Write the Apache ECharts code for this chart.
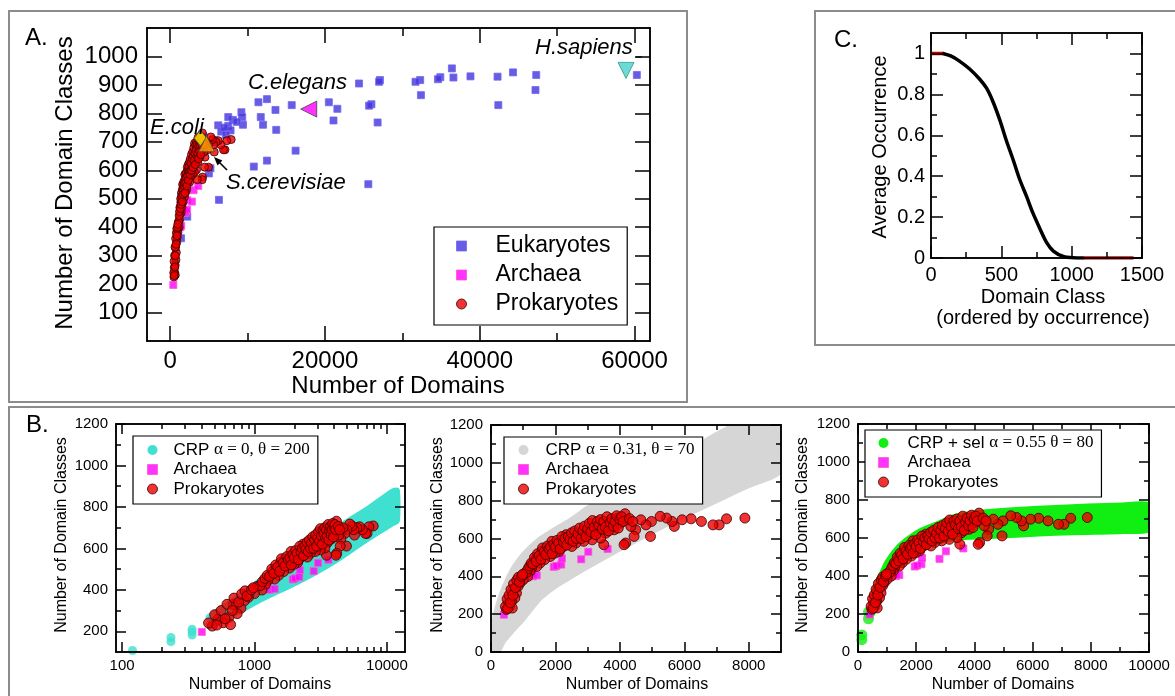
<!DOCTYPE html>
<html><head><meta charset="utf-8">
<script src="https://cdn.jsdelivr.net/npm/echarts@6/dist/echarts.min.js"></script>
<style>html,body{margin:0;padding:0;background:#fff}#c{width:1175px;height:696px}</style>
</head><body><div id="c"></div>
<script>
// ---------------- DATA ----------------
// Panel A: eukaryotes
const eukX = [60300,47300,47200,44300,42300,42400,38800,36400,36600,34900,34600,32300,32400,31700,27100,27000,24400,26000,25700,26800,25600,21600,20500,21100,15700,16200,13600,13700,12500,11400,11700,12000,12500,10800,9200,9300,9400,8100,7500,7500,7800,6200,6300,5000,5200,6600,7200,5700,4300,1400,2200,8600,7000];
const eukY = [935,935,882,944,929,829,930,958,926,927,920,917,864,911,917,911,905,832,827,768,551,816,839,775,829,669,812,742,850,839,787,760,634,613,804,787,760,777,787,756,740,758,496,589,607,736,724,707,719,361,437,770,750];
// Archaea (shared by all panels)
const archX = [400,1300,1420,1950,2030,2180,2200,2800,3020,3620];
const archY = [197,400,405,450,455,462,495,490,530,545];
// Prokaryotes (shared by all panels)
const prokX = [7880,7310,7080,6890,6530,6210,5930,5690,5620,5450,5250,4980,4950,4810,4650,4490,4440,4180,4130,4160,4230,4340,4020,3920,3820,3710,3660,3560,3500,3450,3400,3300,3220,3140,3090,3030,2930,2880,2770,2670,2640,2570,2510,2410,2330,2250,2200,2120,2040,1990,1940,1890,1840,1780,1700,1660,1570,1520,1470,1420,1370,1260,1210,1140,1050,1000,900,840,790,740,690,640,580,660,530,480,
 1100,1150,1200,1250,1300,1350,1400,1450,1500,1550,1600,1650,1700,1750,1800,1850,1900,1950,2000,2050,2100,2150,2200,2250,2300,2350,2400,2450,2500,2550,2600,2650,2700,2750,2800,2850,2900,2950,3000,3050,3100,3150,3200,3250,3300,3350,3400,3450,3500,3550,3600,3650,3700,3750,3800,3850,3900,3950,4000,4050,4100,4300,4400,450,500,520,560,600,620,680,700,760,800,850,880,950,980];
const prokY = [708,704,672,672,690,704,699,664,690,708,717,690,611,672,699,646,611,576,567,731,699,664,681,708,646,699,672,628,567,681,602,655,637,593,664,620,628,585,611,620,576,602,558,585,620,558,593,532,567,523,549,585,505,532,549,488,532,470,505,452,488,444,426,399,417,382,364,347,311,285,329,267,241,232,258,225,
 420,440,455,470,465,500,480,520,510,490,550,530,515,560,545,555,520,570,555,590,575,545,610,580,600,565,610,595,630,585,640,600,625,655,600,640,665,610,650,680,635,695,660,620,690,670,700,650,690,660,715,640,685,705,665,690,720,655,700,715,690,705,690,240,280,230,300,260,330,300,360,340,380,395,370,400,410];
// Highlighted genomes in panel A
const speciesNames = ['E.coli','S.cerevisiae','C.elegans','H.sapiens'];
const speciesX = [3900,4700,17900,58900];
const speciesY = [713,693,815,951];

// Panel C: average occurrence curve
const classRank = [85,140,200,275,345,395,440,490,535,585,630,680,725,775,820,870,940,1010,1080];
const avgOcc = [1,0.988,0.964,0.924,0.875,0.83,0.765,0.673,0.576,0.478,0.385,0.3,0.219,0.142,0.078,0.034,0.008,0.001,0];
const headRankX = [0,85], headOccY = [1,1];
const tailRankX = [1080,1440], tailOccY = [0,0];

// Panel B simulations (band edges)
const crp0X  = [470,650,1000,1300,2250,4000,7000,11000,12000];
const crp0Up = [275,339,425,484,588,692,788,876,880];
const crp0Lo = [225,270,335,372,445,535,640,718,733];
const crp0DotX = [120,234,234,338,338,338,461,461];
const crp0DotY = [107,150,170,182,197,210,230,265];
const crp1X  = [0,200,400,700,1000,1500,2000,2500,3000,4000,5000,6000,7000,8000,9000];
const crp1Up = [80,240,340,445,515,595,650,700,760,860,955,1050,1150,1240,1330];
const crp1Lo = [0,0,60,120,175,280,348,400,450,545,635,720,800,880,960];
const crp2X  = [500,600,800,1000,1400,1750,2200,2800,3300,3900,4500,5600,6800,7900,9100,10000];
const crp2Up = [300,345,410,475,555,600,643,680,712,730,740,751,761,768,774,775];
const crp2Lo = [200,257,333,390,467,510,551,581,598,604,608,616,625,629,634,643];
const crp2DotX = [130,130,360,360];
const crp2DotY = [65,90,175,210];

// Tick values / labels
const aXMajor = [0,20000,40000,60000], aXMinor = [10000,30000,50000];
const aYMajor = [100,200,300,400,500,600,700,800,900,1000];
const cXMajor = [0,500,1000,1500], cXMinor = [250,750,1250];
const cYMajor = [0,0.2,0.4,0.6,0.8,1], cYMinor = [0.1,0.3,0.5,0.7,0.9];
const b1XMajor = [100,1000,10000], b1XMinor = [200,300,400,500,600,700,800,900,2000,3000,4000,5000,6000,7000,8000,9000];
const b1YMajor = [200,400,600,800,1000,1200], b1YMinor = [300,500,700,900,1100];
const b2XMajor = [0,2000,4000,6000,8000], b2XMinor = [1000,3000,5000,7000];
const bYMajor = [0,200,400,600,800,1000,1200], bYMinor = [100,300,500,700,900,1100];
const b3XMajor = [0,2000,4000,6000,8000,10000], b3XMinor = [1000,3000,5000,7000,9000];

// ---------------- CHART ----------------
const FONT = '"Liberation Sans", Arial, Helvetica, sans-serif';
const SERIF = '"Liberation Serif", "Times New Roman", serif';
const zip = (xs, ys) => xs.map((x, i) => [x, ys[i]]);
const xAxes = [], yAxes = [], series = [];

function axisSet(list, dim, g, o) {
  const sides = dim === 'x' ? ['bottom', 'top'] : ['left', 'right'];
  const idx = list.length;
  sides.forEach((pos, si) => {
    [[o.major, o.tl[0]], [o.minor, o.tl[1]]].forEach(([vals, len], ti) => {
      list.push({
        type: o.type || 'value', gridIndex: g, position: pos, offset: 0,
        min: o.min, max: o.max,
        axisLine: { show: true, onZero: false, lineStyle: { color: '#000', width: 1.5 } },
        axisTick: { show: vals.length > 0, inside: true, length: len, customValues: vals,
                    lineStyle: { color: '#000', width: 1.5 } },
        axisLabel: { show: si === 0 && ti === 0, customValues: o.labels,
                     formatter: v => String(Math.round(v * 1000) / 1000),
                     fontSize: o.fs, fontFamily: FONT, color: '#000', margin: o.margin },
        splitLine: { show: false }, minorTick: { show: false }, minorSplitLine: { show: false },
        splitArea: { show: false }, silent: true, z: 6
      });
    });
  });
  return idx;
}

const grids = [
  { left: 147, top: 28, width: 503, height: 313 },   // A
  { left: 931, top: 33, width: 211, height: 225 },   // C
  { left: 116, top: 424, width: 289, height: 228 },  // B1
  { left: 491, top: 425, width: 290, height: 227 },  // B2
  { left: 858, top: 424, width: 291, height: 228 }   // B3
].map(g => Object.assign({ containLabel: false, outerBoundsMode: 'none' }, g));

const TA = [15, 8], TB = [10, 5], TC = [12, 6];
const axA  = { x: axisSet(xAxes, 'x', 0, { min: -3000, max: 62000, major: aXMajor, minor: aXMinor, labels: aXMajor, fs: 24, margin: 8, tl: TA }),
               y: axisSet(yAxes, 'y', 0, { min: 0, max: 1100, major: aYMajor, minor: [], labels: aYMajor, fs: 24, margin: 9, tl: TA }) };
const axC  = { x: axisSet(xAxes, 'x', 1, { min: 0, max: 1500, major: cXMajor, minor: cXMinor, labels: cXMajor, fs: 20, margin: 7, tl: TC }),
               y: axisSet(yAxes, 'y', 1, { min: 0, max: 1.1, major: cYMajor, minor: cYMinor, labels: cYMajor, fs: 20, margin: 6, tl: TC }) };
const axB1 = { x: axisSet(xAxes, 'x', 2, { type: 'log', min: 90, max: 13700, major: b1XMajor, minor: b1XMinor, labels: b1XMajor, fs: 15, margin: 6, tl: TB }),
               y: axisSet(yAxes, 'y', 2, { min: 100, max: 1200, major: b1YMajor, minor: b1YMinor, labels: b1YMajor, fs: 15, margin: 8, tl: TB }) };
const axB2 = { x: axisSet(xAxes, 'x', 3, { min: 0, max: 9000, major: b2XMajor, minor: b2XMinor, labels: b2XMajor, fs: 15, margin: 6, tl: TB }),
               y: axisSet(yAxes, 'y', 3, { min: 0, max: 1200, major: bYMajor, minor: bYMinor, labels: bYMajor, fs: 15, margin: 8, tl: TB }) };
const axB3 = { x: axisSet(xAxes, 'x', 4, { min: 0, max: 10000, major: b3XMajor, minor: b3XMinor, labels: b3XMajor, fs: 15, margin: 6, tl: TB }),
               y: axisSet(yAxes, 'y', 4, { min: 0, max: 1200, major: bYMajor, minor: bYMinor, labels: bYMajor, fs: 15, margin: 8, tl: TB }) };

function scatter(name, xs, ys, ax, symbol, size, itemStyle, z) {
  return { type: 'scatter', name, xAxisIndex: ax.x, yAxisIndex: ax.y, data: zip(xs, ys),
           symbol, symbolSize: size, itemStyle, z, silent: true, emphasis: { disabled: true } };
}
function band(name, xs, up, lo, ax, color, z) {
  return { type: 'custom', name, xAxisIndex: ax.x, yAxisIndex: ax.y, clip: true, silent: true, z,
    data: [[xs[0], lo[0]]],
    renderItem: (params, api) => {
      const pts = [];
      for (let i = 0; i < xs.length; i++) pts.push(api.coord([xs[i], up[i]]));
      for (let i = xs.length - 1; i >= 0; i--) pts.push(api.coord([xs[i], lo[i]]));
      return { type: 'polygon', shape: { points: pts, smooth: 0.2 },
               style: { fill: color, stroke: color, lineWidth: 5, lineJoin: 'round' } };
    } };
}

const EUK = { color: '#4433dd', borderColor: '#6f66ee', borderWidth: 1 };
const ARC = { color: '#ff00ff', borderColor: '#ff55cc', borderWidth: 1 };
const PRO = { color: '#ee0000', borderColor: '#3a0000', borderWidth: 1 };
const CYAN = '#40e0d0', GRAY = '#d6d6d6', GREEN = '#11ee11';

// Panel A
series.push(scatter('Eukaryotes', eukX, eukY, axA, 'rect', 7, EUK, 3));
series.push(scatter('Archaea', archX, archY, axA, 'rect', 7, ARC, 4));
series.push(scatter('Prokaryotes', prokX, prokY, axA, 'circle', 8, PRO, 5));
const speciesSym = ['diamond', 'triangle', 'triangle', 'triangle'];
const speciesRot = [0, 0, 90, 180];
const speciesCol = ['#ffee00', '#ffa500', '#ff00ff', '#48d1cc'];
const speciesSize = [[13, 16], 16, 16, 16];
series.push({ type: 'scatter', name: 'species', xAxisIndex: axA.x, yAxisIndex: axA.y, z: 6, silent: true,
  data: speciesNames.map((n, i) => ({ name: n, value: [speciesX[i], speciesY[i]], symbol: speciesSym[i],
    symbolRotate: speciesRot[i], symbolSize: speciesSize[i],
    itemStyle: { color: speciesCol[i], borderColor: i === 3 ? '#2a9a90' : '#444', borderWidth: 1 } })) });

// Panel C
series.push({ type: 'line', name: 'occ', xAxisIndex: axC.x, yAxisIndex: axC.y, data: zip(classRank, avgOcc),
  showSymbol: false, smooth: 0.3, lineStyle: { color: '#000', width: 3.5, join: 'round', cap: 'round' }, z: 4, silent: true });
series.push({ type: 'line', name: 'occHead', xAxisIndex: axC.x, yAxisIndex: axC.y, data: zip(headRankX, headOccY),
  showSymbol: false, lineStyle: { color: '#d40000', width: 3.5 }, z: 5, silent: true });
series.push({ type: 'line', name: 'occTail', xAxisIndex: axC.x, yAxisIndex: axC.y, data: zip(tailRankX, tailOccY),
  showSymbol: false, lineStyle: { color: '#d40000', width: 3.5 }, z: 5, silent: true });

// Panel B1
series.push(band('CRP0', crp0X, crp0Up, crp0Lo, axB1, CYAN, 1));
series.push(scatter('CRP0 dots', crp0DotX, crp0DotY, axB1, 'circle', 9, { color: CYAN }, 1));
series.push(scatter('Archaea', archX, archY, axB1, 'rect', 7, ARC, 3));
series.push(scatter('Prokaryotes', prokX, prokY, axB1, 'circle', 10, PRO, 4));
// Panel B2
series.push(band('CRP1', crp1X, crp1Up, crp1Lo, axB2, GRAY, 1));
series.push(scatter('Archaea', archX, archY, axB2, 'rect', 7, ARC, 3));
series.push(scatter('Prokaryotes', prokX, prokY, axB2, 'circle', 10, PRO, 4));
// Panel B3
series.push(band('CRP2', crp2X, crp2Up, crp2Lo, axB3, GREEN, 1));
series.push(scatter('CRP2 dots', crp2DotX, crp2DotY, axB3, 'circle', 11, { color: GREEN }, 1));
series.push(scatter('Archaea', archX, archY, axB3, 'rect', 7, ARC, 3));
series.push(scatter('Prokaryotes', prokX, prokY, axB3, 'circle', 10, PRO, 4));

// Legends
const legendText = {
  CRP0: ['CRP ', 'α = 0, θ = 200'],
  CRP1: ['CRP ', 'α = 0.31, θ = 70'],
  CRP2: ['CRP + sel ', 'α = 0.55 θ = 80']
};
function mkLegend(o) {
  return {
    orient: 'vertical', align: 'left', left: o.left, top: o.top, padding: o.padding, itemGap: o.gap,
    itemWidth: 10, itemHeight: 10, selectedMode: false, backgroundColor: '#fff',
    borderColor: '#000', borderWidth: 1.2, borderRadius: 0, z: 20,
    data: o.data,
    formatter: n => legendText[n] ? '{s|}{t|' + legendText[n][0] + '}{g|' + legendText[n][1] + '}' : '{s|}{t|' + n + '}',
    textStyle: { fontSize: o.fs, fontFamily: FONT, color: '#000', lineHeight: o.lh,
      rich: { s: { width: o.sp, lineHeight: o.lh },
              t: { fontSize: o.fs, fontFamily: FONT, color: '#000', lineHeight: o.lh },
              g: { fontSize: o.fs, fontFamily: SERIF, color: '#000', lineHeight: o.lh } } }
  };
}
const legArc = { name: 'Archaea', icon: 'rect', itemStyle: { color: '#ff00ff', borderColor: '#ff55cc', borderWidth: 1 } };
const legPro = { name: 'Prokaryotes', icon: 'circle', itemStyle: { color: '#ee0000', borderColor: '#3a0000', borderWidth: 1 } };
const legends = [
  mkLegend({ left: 434, top: 227, padding: [6, 9, 8, 22], gap: 3, fs: 23, lh: 26, sp: 24,
    data: [{ name: 'Eukaryotes', icon: 'rect', itemStyle: { color: '#4433dd', borderColor: '#6f66ee', borderWidth: 1 } }, legArc, legPro] }),
  mkLegend({ left: 133, top: 436, padding: [5, 8, 6, 14], gap: 1.5, fs: 17, lh: 18, sp: 11,
    data: [{ name: 'CRP0', icon: 'circle', itemStyle: { color: CYAN, borderWidth: 0 } }, legArc, legPro] }),
  mkLegend({ left: 504, top: 437, padding: [4, 8, 6, 14], gap: 1.5, fs: 17, lh: 18, sp: 12,
    data: [{ name: 'CRP1', icon: 'circle', itemStyle: { color: GRAY, borderWidth: 0 } }, legArc, legPro] }),
  mkLegend({ left: 865, top: 430, padding: [4, 8, 6, 13], gap: 1.5, fs: 17, lh: 18, sp: 14,
    data: [{ name: 'CRP2', icon: 'circle', itemStyle: { color: GREEN, borderWidth: 0 } }, legArc, legPro] })
];

// Graphic: frames, panel letters, titles, annotations
function txt(x, y, text, fs, opts) {
  opts = opts || {};
  return { type: 'text', x, y, rotation: opts.rot || 0, z: 30, silent: true,
    style: { text, fontSize: fs, fontFamily: opts.family || FONT, fontStyle: opts.italic ? 'italic' : 'normal',
      fill: '#000', textAlign: opts.align || 'center', align: opts.align || 'center',
      textVerticalAlign: 'middle', verticalAlign: 'middle' } };
}
const frameStyle = { fill: 'none', stroke: '#8c8c8c', lineWidth: 2 };
const graphic = [
  { type: 'rect', shape: { x: 9, y: 11, width: 678, height: 391 }, style: frameStyle, z: 0, silent: true },
  { type: 'rect', shape: { x: 815, y: 11, width: 380, height: 334 }, style: frameStyle, z: 0, silent: true },
  { type: 'rect', shape: { x: 9, y: 407, width: 1190, height: 300 }, style: frameStyle, z: 0, silent: true },
  txt(25, 38, 'A.', 24, { align: 'left' }),
  txt(26, 425, 'B.', 24, { align: 'left' }),
  txt(834, 40, 'C.', 24, { align: 'left' }),
  // axis titles
  txt(398, 386, 'Number of Domains', 24),
  txt(65, 183, 'Number of Domain Classes', 24, { rot: Math.PI / 2 }),
  txt(1043, 297, 'Domain Class', 20),
  txt(1043, 318, '(ordered by occurrence)', 20),
  txt(880, 147, 'Average Occurrence', 20, { rot: Math.PI / 2 }),
  txt(260, 685, 'Number of Domains', 16),
  txt(62, 535, 'Number of Domain Classes', 16, { rot: Math.PI / 2 }),
  txt(637, 685, 'Number of Domains', 16),
  txt(438, 535, 'Number of Domain Classes', 16, { rot: Math.PI / 2 }),
  txt(1003, 685, 'Number of Domains', 16),
  txt(803, 535, 'Number of Domain Classes', 16, { rot: Math.PI / 2 }),
  // annotations
  txt(535, 48, 'H.sapiens', 22, { align: 'left', italic: true }),
  txt(248, 83, 'C.elegans', 22, { align: 'left', italic: true }),
  txt(150, 128, 'E.coli', 22, { align: 'left', italic: true }),
  txt(226, 183, 'S.cerevisiae', 22, { align: 'left', italic: true }),
  { type: 'line', shape: { x1: 636, y1: 57, x2: 642, y2: 57 }, style: { stroke: '#000', lineWidth: 1.2 }, z: 30, silent: true },
  { type: 'line', shape: { x1: 227, y1: 170, x2: 218, y2: 161 }, style: { stroke: '#000', lineWidth: 1.6 }, z: 30, silent: true },
  { type: 'polygon', shape: { points: [[214, 157], [222.4, 160.5], [217.5, 165.4]] }, style: { fill: '#000' }, z: 30, silent: true }
];

const chart = echarts.init(document.getElementById('c'), null, { renderer: 'canvas', width: 1175, height: 696 });
chart.setOption({
  animation: false,
  backgroundColor: '#fff',
  textStyle: { fontFamily: FONT },
  grid: grids,
  xAxis: xAxes,
  yAxis: yAxes,
  legend: legends,
  series,
  graphic
});
</script>
</body></html>
